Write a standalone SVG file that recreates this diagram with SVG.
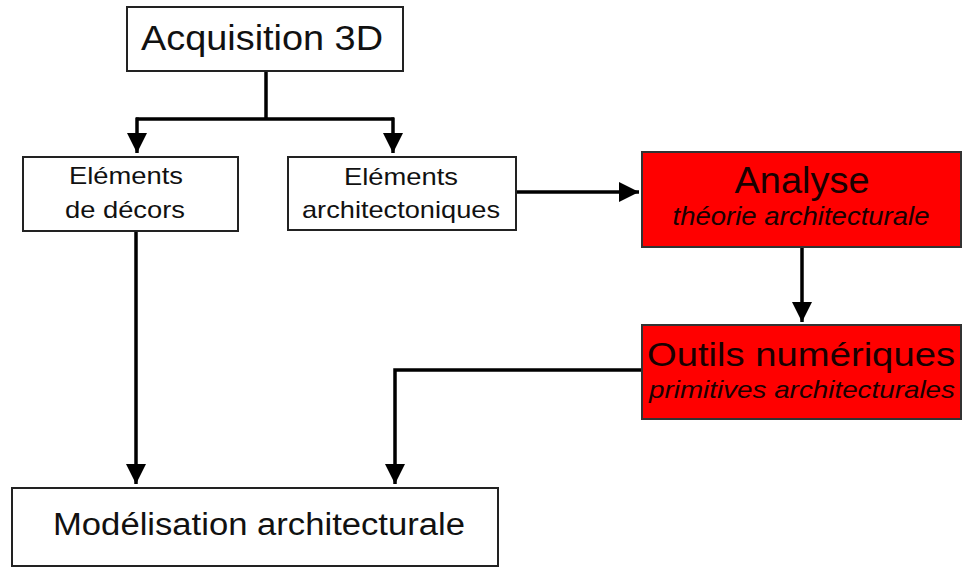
<svg xmlns="http://www.w3.org/2000/svg" width="962" height="568" viewBox="0 0 962 568">
<style>
.box{fill:#fff;stroke:#222;stroke-width:2}
.red{fill:#ff0000;stroke:#333;stroke-width:2}
.t{font-family:"Liberation Sans",Arial,sans-serif;fill:#111;text-anchor:middle}
.r{fill:#1a0000}
.it{font-style:italic}
.c{fill:none;stroke:#000;stroke-width:3.5}
</style>
<defs>
<marker id="ah" markerWidth="20" markerHeight="20" refX="20" refY="10" orient="auto" markerUnits="userSpaceOnUse"><path d="M0,0 L20,10 L0,20 Z" fill="#000"/></marker>
</defs>
<rect x="0" y="0" width="962" height="568" fill="#fff"/>
<g id="connectors">
<path class="c" d="M266,71 V119"/>
<path class="c" d="M136,119 H394"/>
<path class="c" d="M137,117.5 V153" marker-end="url(#ah)"/>
<path class="c" d="M393,117.5 V153" marker-end="url(#ah)"/>
<path class="c" d="M516,192 H639" marker-end="url(#ah)"/>
<path class="c" d="M802,247 V322" marker-end="url(#ah)"/>
<path class="c" d="M642,370 H395 V484" marker-end="url(#ah)"/>
<path class="c" d="M136,231 V484" marker-end="url(#ah)"/>
</g>
<g id="acquisition">
<rect class="box" x="127" y="7" width="276" height="64"/>
<text class="t" x="262" y="50" font-size="35" textLength="242" lengthAdjust="spacingAndGlyphs">Acquisition 3D</text>
</g>
<g id="decors">
<rect class="box" x="23" y="157" width="215" height="74"/>
<text class="t" x="126" y="184" font-size="24" textLength="114" lengthAdjust="spacingAndGlyphs">Eléments</text>
<text class="t" x="125" y="218" font-size="24" textLength="120" lengthAdjust="spacingAndGlyphs">de décors</text>
</g>
<g id="architectoniques">
<rect class="box" x="288" y="157" width="228" height="73"/>
<text class="t" x="401" y="185" font-size="24" textLength="114" lengthAdjust="spacingAndGlyphs">Eléments</text>
<text class="t" x="401" y="218" font-size="24" textLength="198" lengthAdjust="spacingAndGlyphs">architectoniques</text>
</g>
<g id="analyse">
<rect class="red" x="642" y="152" width="319" height="95"/>
<text class="t r" x="802" y="193" font-size="37" textLength="135" lengthAdjust="spacingAndGlyphs">Analyse</text>
<text class="t r it" x="801" y="225" font-size="25" textLength="257" lengthAdjust="spacingAndGlyphs">théorie architecturale</text>
</g>
<g id="outils">
<rect class="red" x="642" y="325" width="319" height="94"/>
<text class="t r" x="801" y="366" font-size="34" textLength="308" lengthAdjust="spacingAndGlyphs">Outils numériques</text>
<text class="t r it" x="802" y="398" font-size="24" textLength="306" lengthAdjust="spacingAndGlyphs">primitives architecturales</text>
</g>
<g id="modelisation">
<rect class="box" x="12" y="488" width="486" height="78"/>
<text class="t" x="259" y="535" font-size="31" textLength="412" lengthAdjust="spacingAndGlyphs">Modélisation architecturale</text>
</g>
</svg>
